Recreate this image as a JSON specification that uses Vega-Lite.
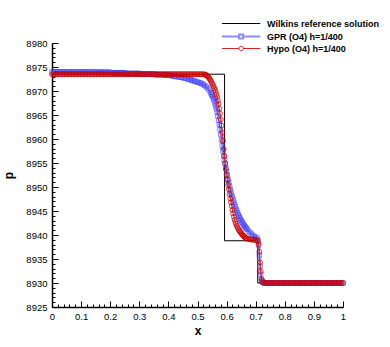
{
"$schema": "https://vega.github.io/schema/vega-lite/v6.json",
"width": 291, "height": 264,
"autosize": "none",
"padding": {"left": 52, "top": 43, "right": 47, "bottom": 40},
"background": "white",
"config": {"view": {"stroke": null}, "font": "Liberation Sans"},
"datasets": {
"ref": [{"x":0,"p":8973.5},{"x":0.593,"p":8973.5},{"x":0.593,"p":8938.8},{"x":0.707,"p":8938.8},{"x":0.707,"p":8930},{"x":1,"p":8930}],
"hypo": [
{"x":0,"p":8973.5},{"x":0.005,"p":8973.5},{"x":0.01,"p":8973.5},{"x":0.015,"p":8973.5},{"x":0.02,"p":8973.5},{"x":0.025,"p":8973.5},{"x":0.03,"p":8973.5},{"x":0.035,"p":8973.5},{"x":0.04,"p":8973.5},{"x":0.045,"p":8973.5},
{"x":0.05,"p":8973.5},{"x":0.055,"p":8973.5},{"x":0.06,"p":8973.5},{"x":0.065,"p":8973.5},{"x":0.07,"p":8973.5},{"x":0.075,"p":8973.5},{"x":0.08,"p":8973.5},{"x":0.085,"p":8973.5},{"x":0.09,"p":8973.5},{"x":0.095,"p":8973.5},
{"x":0.1,"p":8973.5},{"x":0.105,"p":8973.5},{"x":0.11,"p":8973.5},{"x":0.115,"p":8973.5},{"x":0.12,"p":8973.5},{"x":0.125,"p":8973.5},{"x":0.13,"p":8973.5},{"x":0.135,"p":8973.5},{"x":0.14,"p":8973.5},{"x":0.145,"p":8973.5},
{"x":0.15,"p":8973.5},{"x":0.155,"p":8973.5},{"x":0.16,"p":8973.5},{"x":0.165,"p":8973.5},{"x":0.17,"p":8973.5},{"x":0.175,"p":8973.5},{"x":0.18,"p":8973.5},{"x":0.185,"p":8973.5},{"x":0.19,"p":8973.5},{"x":0.195,"p":8973.5},
{"x":0.2,"p":8973.5},{"x":0.205,"p":8973.5},{"x":0.21,"p":8973.5},{"x":0.215,"p":8973.5},{"x":0.22,"p":8973.5},{"x":0.225,"p":8973.5},{"x":0.23,"p":8973.5},{"x":0.235,"p":8973.5},{"x":0.24,"p":8973.5},{"x":0.245,"p":8973.5},
{"x":0.25,"p":8973.5},{"x":0.255,"p":8973.5},{"x":0.26,"p":8973.5},{"x":0.265,"p":8973.5},{"x":0.27,"p":8973.5},{"x":0.275,"p":8973.5},{"x":0.28,"p":8973.5},{"x":0.285,"p":8973.5},{"x":0.29,"p":8973.5},{"x":0.295,"p":8973.5},
{"x":0.3,"p":8973.5},{"x":0.305,"p":8973.5},{"x":0.31,"p":8973.5},{"x":0.315,"p":8973.5},{"x":0.32,"p":8973.5},{"x":0.325,"p":8973.5},{"x":0.33,"p":8973.5},{"x":0.335,"p":8973.5},{"x":0.34,"p":8973.5},{"x":0.345,"p":8973.5},
{"x":0.35,"p":8973.5},{"x":0.355,"p":8973.5},{"x":0.36,"p":8973.5},{"x":0.365,"p":8973.5},{"x":0.37,"p":8973.5},{"x":0.375,"p":8973.5},{"x":0.38,"p":8973.5},{"x":0.385,"p":8973.5},{"x":0.39,"p":8973.5},{"x":0.395,"p":8973.5},
{"x":0.4,"p":8973.5},{"x":0.405,"p":8973.5},{"x":0.41,"p":8973.5},{"x":0.415,"p":8973.5},{"x":0.42,"p":8973.5},{"x":0.425,"p":8973.5},{"x":0.43,"p":8973.5},{"x":0.435,"p":8973.5},{"x":0.44,"p":8973.5},{"x":0.445,"p":8973.5},
{"x":0.45,"p":8973.5},{"x":0.455,"p":8973.5},{"x":0.46,"p":8973.5},{"x":0.465,"p":8973.5},{"x":0.47,"p":8973.5},{"x":0.475,"p":8973.5},{"x":0.48,"p":8973.5},{"x":0.485,"p":8973.5},{"x":0.49,"p":8973.5},{"x":0.495,"p":8973.5},
{"x":0.5,"p":8973.5},{"x":0.505,"p":8973.5},{"x":0.51,"p":8973.5},{"x":0.515,"p":8973.5},{"x":0.52,"p":8973.5},{"x":0.525,"p":8973.45},{"x":0.53,"p":8973.3},{"x":0.535,"p":8973.05},{"x":0.54,"p":8972.7},{"x":0.545,"p":8972.2},
{"x":0.55,"p":8971.6},{"x":0.555,"p":8971.0},{"x":0.56,"p":8970.2},{"x":0.565,"p":8969.3},{"x":0.57,"p":8968.1},{"x":0.575,"p":8966.3},{"x":0.58,"p":8964.1},{"x":0.585,"p":8961.3},{"x":0.59,"p":8957.9},{"x":0.595,"p":8955.0},
{"x":0.6,"p":8952.6},{"x":0.605,"p":8950.5},{"x":0.61,"p":8948.5},{"x":0.615,"p":8946.8},{"x":0.62,"p":8945.2},{"x":0.625,"p":8943.8},{"x":0.63,"p":8942.7},{"x":0.635,"p":8941.9},{"x":0.64,"p":8941.3},{"x":0.645,"p":8940.8},
{"x":0.65,"p":8940.4},{"x":0.655,"p":8940.0},{"x":0.66,"p":8939.7},{"x":0.665,"p":8939.4},{"x":0.67,"p":8939.25},{"x":0.675,"p":8939.15},{"x":0.68,"p":8939.1},{"x":0.685,"p":8939.05},{"x":0.69,"p":8939.0},{"x":0.695,"p":8939.0},
{"x":0.7,"p":8939.0},{"x":0.705,"p":8938.9},{"x":0.71,"p":8938.1},{"x":0.715,"p":8934.3},{"x":0.72,"p":8930.8},{"x":0.725,"p":8930.1},{"x":0.73,"p":8930},{"x":0.735,"p":8930},{"x":0.74,"p":8930},{"x":0.745,"p":8930},
{"x":0.75,"p":8930},{"x":0.755,"p":8930},{"x":0.76,"p":8930},{"x":0.765,"p":8930},{"x":0.77,"p":8930},{"x":0.775,"p":8930},{"x":0.78,"p":8930},{"x":0.785,"p":8930},{"x":0.79,"p":8930},{"x":0.795,"p":8930},
{"x":0.8,"p":8930},{"x":0.805,"p":8930},{"x":0.81,"p":8930},{"x":0.815,"p":8930},{"x":0.82,"p":8930},{"x":0.825,"p":8930},{"x":0.83,"p":8930},{"x":0.835,"p":8930},{"x":0.84,"p":8930},{"x":0.845,"p":8930},
{"x":0.85,"p":8930},{"x":0.855,"p":8930},{"x":0.86,"p":8930},{"x":0.865,"p":8930},{"x":0.87,"p":8930},{"x":0.875,"p":8930},{"x":0.88,"p":8930},{"x":0.885,"p":8930},{"x":0.89,"p":8930},{"x":0.895,"p":8930},
{"x":0.9,"p":8930},{"x":0.905,"p":8930},{"x":0.91,"p":8930},{"x":0.915,"p":8930},{"x":0.92,"p":8930},{"x":0.925,"p":8930},{"x":0.93,"p":8930},{"x":0.935,"p":8930},{"x":0.94,"p":8930},{"x":0.945,"p":8930},
{"x":0.95,"p":8930},{"x":0.955,"p":8930},{"x":0.96,"p":8930},{"x":0.965,"p":8930},{"x":0.97,"p":8930},{"x":0.975,"p":8930},{"x":0.98,"p":8930},{"x":0.985,"p":8930},{"x":0.99,"p":8930},{"x":0.995,"p":8930},
{"x":1,"p":8930},
{"x":0.5275,"p":8973.4},{"x":0.5325,"p":8973.2},{"x":0.5375,"p":8972.9},{"x":0.5425,"p":8972.45},{"x":0.5475,"p":8971.9},{"x":0.5525,"p":8971.3},{"x":0.5575,"p":8970.6},{"x":0.5625,"p":8969.8},{"x":0.5675,"p":8968.7},{"x":0.5725,"p":8967.3},
{"x":0.5775,"p":8965.3},{"x":0.5825,"p":8962.8},{"x":0.5875,"p":8959.6},{"x":0.5925,"p":8956.4},{"x":0.5975,"p":8953.7},{"x":0.6025,"p":8951.5},{"x":0.6075,"p":8949.5},{"x":0.6125,"p":8947.6},{"x":0.6175,"p":8946.0},{"x":0.6225,"p":8944.5},
{"x":0.6275,"p":8943.2},{"x":0.6325,"p":8942.3},{"x":0.6375,"p":8941.6},{"x":0.6425,"p":8941.0},{"x":0.6475,"p":8940.6},{"x":0.6525,"p":8940.2},{"x":0.6575,"p":8939.85},{"x":0.6625,"p":8939.55},{"x":0.6675,"p":8939.3},
{"x":0.7075,"p":8938.7},{"x":0.7125,"p":8936.5},{"x":0.7175,"p":8932.4},{"x":0.7225,"p":8930.4}],
"gpr": [
{"x":0,"p":8973.95},{"x":0.005,"p":8973.95},{"x":0.01,"p":8973.95},{"x":0.015,"p":8973.95},{"x":0.02,"p":8973.95},{"x":0.025,"p":8973.95},{"x":0.03,"p":8973.95},{"x":0.035,"p":8973.95},{"x":0.04,"p":8973.95},{"x":0.045,"p":8973.95},
{"x":0.05,"p":8973.95},{"x":0.055,"p":8973.95},{"x":0.06,"p":8973.95},{"x":0.065,"p":8973.95},{"x":0.07,"p":8973.95},{"x":0.075,"p":8973.95},{"x":0.08,"p":8973.95},{"x":0.085,"p":8973.95},{"x":0.09,"p":8973.95},{"x":0.095,"p":8973.95},
{"x":0.1,"p":8973.95},{"x":0.105,"p":8973.95},{"x":0.11,"p":8973.95},{"x":0.115,"p":8973.95},{"x":0.12,"p":8973.95},{"x":0.125,"p":8973.95},{"x":0.13,"p":8973.95},{"x":0.135,"p":8973.95},{"x":0.14,"p":8973.95},{"x":0.145,"p":8973.95},
{"x":0.15,"p":8973.95},{"x":0.155,"p":8973.9},{"x":0.16,"p":8973.9},{"x":0.165,"p":8973.9},{"x":0.17,"p":8973.9},{"x":0.175,"p":8973.9},{"x":0.18,"p":8973.9},{"x":0.185,"p":8973.9},{"x":0.19,"p":8973.9},{"x":0.195,"p":8973.9},
{"x":0.2,"p":8973.9},{"x":0.205,"p":8973.8},{"x":0.21,"p":8973.8},{"x":0.215,"p":8973.8},{"x":0.22,"p":8973.8},{"x":0.225,"p":8973.8},{"x":0.23,"p":8973.8},{"x":0.235,"p":8973.8},{"x":0.24,"p":8973.8},{"x":0.245,"p":8973.8},
{"x":0.25,"p":8973.8},{"x":0.255,"p":8973.65},{"x":0.26,"p":8973.65},{"x":0.265,"p":8973.65},{"x":0.27,"p":8973.65},{"x":0.275,"p":8973.65},{"x":0.28,"p":8973.65},{"x":0.285,"p":8973.65},{"x":0.29,"p":8973.65},{"x":0.295,"p":8973.65},
{"x":0.3,"p":8973.65},{"x":0.305,"p":8973.5},{"x":0.31,"p":8973.5},{"x":0.315,"p":8973.5},{"x":0.32,"p":8973.5},{"x":0.325,"p":8973.5},{"x":0.33,"p":8973.5},{"x":0.335,"p":8973.5},{"x":0.34,"p":8973.5},{"x":0.345,"p":8973.5},
{"x":0.35,"p":8973.5},{"x":0.355,"p":8973.4},{"x":0.36,"p":8973.4},{"x":0.365,"p":8973.4},{"x":0.37,"p":8973.4},{"x":0.375,"p":8973.4},{"x":0.38,"p":8973.4},{"x":0.385,"p":8973.3},{"x":0.39,"p":8973.3},{"x":0.395,"p":8973.3},
{"x":0.4,"p":8973.3},{"x":0.405,"p":8973.25},{"x":0.41,"p":8973.2},{"x":0.415,"p":8973.15},{"x":0.42,"p":8973.1},{"x":0.425,"p":8973.05},{"x":0.43,"p":8973.0},{"x":0.435,"p":8972.95},{"x":0.44,"p":8972.9},{"x":0.445,"p":8972.85},
{"x":0.45,"p":8972.8},{"x":0.455,"p":8972.7},{"x":0.46,"p":8972.65},{"x":0.465,"p":8972.55},{"x":0.47,"p":8972.45},{"x":0.475,"p":8972.35},{"x":0.48,"p":8972.25},{"x":0.485,"p":8972.15},{"x":0.49,"p":8972.05},{"x":0.495,"p":8971.95},
{"x":0.5,"p":8971.85},{"x":0.505,"p":8971.75},{"x":0.51,"p":8971.65},{"x":0.515,"p":8971.5},{"x":0.52,"p":8971.35},{"x":0.525,"p":8971.15},{"x":0.53,"p":8970.9},{"x":0.535,"p":8970.6},{"x":0.54,"p":8970.2},{"x":0.545,"p":8969.7},
{"x":0.55,"p":8969.1},{"x":0.555,"p":8968.4},{"x":0.56,"p":8967.5},{"x":0.565,"p":8966.3},{"x":0.57,"p":8964.8},{"x":0.575,"p":8963.0},{"x":0.58,"p":8960.9},{"x":0.585,"p":8958.6},{"x":0.59,"p":8956.5},{"x":0.595,"p":8954.8},
{"x":0.6,"p":8953.2},{"x":0.605,"p":8951.6},{"x":0.61,"p":8950.2},{"x":0.615,"p":8948.9},{"x":0.62,"p":8947.8},{"x":0.625,"p":8946.8},{"x":0.63,"p":8945.9},{"x":0.635,"p":8945.0},{"x":0.64,"p":8944.2},{"x":0.645,"p":8943.6},
{"x":0.65,"p":8943.0},{"x":0.655,"p":8942.5},{"x":0.66,"p":8942.0},{"x":0.665,"p":8941.6},{"x":0.67,"p":8941.2},{"x":0.675,"p":8940.8},{"x":0.68,"p":8940.5},{"x":0.685,"p":8940.2},{"x":0.69,"p":8939.95},{"x":0.695,"p":8939.7},
{"x":0.7,"p":8939.5},{"x":0.705,"p":8939.3},{"x":0.71,"p":8937.8},{"x":0.715,"p":8933.5},{"x":0.72,"p":8930.6},{"x":0.725,"p":8930.1},{"x":0.73,"p":8930},{"x":0.735,"p":8930},{"x":0.74,"p":8930},{"x":0.745,"p":8930},
{"x":0.75,"p":8930},{"x":0.755,"p":8930},{"x":0.76,"p":8930},{"x":0.765,"p":8930},{"x":0.77,"p":8930},{"x":0.775,"p":8930},{"x":0.78,"p":8930},{"x":0.785,"p":8930},{"x":0.79,"p":8930},{"x":0.795,"p":8930},
{"x":0.8,"p":8930},{"x":0.805,"p":8930},{"x":0.81,"p":8930},{"x":0.815,"p":8930},{"x":0.82,"p":8930},{"x":0.825,"p":8930},{"x":0.83,"p":8930},{"x":0.835,"p":8930},{"x":0.84,"p":8930},{"x":0.845,"p":8930},
{"x":0.85,"p":8930},{"x":0.855,"p":8930},{"x":0.86,"p":8930},{"x":0.865,"p":8930},{"x":0.87,"p":8930},{"x":0.875,"p":8930},{"x":0.88,"p":8930},{"x":0.885,"p":8930},{"x":0.89,"p":8930},{"x":0.895,"p":8930},
{"x":0.9,"p":8930},{"x":0.905,"p":8930},{"x":0.91,"p":8930},{"x":0.915,"p":8930},{"x":0.92,"p":8930},{"x":0.925,"p":8930},{"x":0.93,"p":8930},{"x":0.935,"p":8930},{"x":0.94,"p":8930},{"x":0.945,"p":8930},
{"x":0.95,"p":8930},{"x":0.955,"p":8930},{"x":0.96,"p":8930},{"x":0.965,"p":8930},{"x":0.97,"p":8930},{"x":0.975,"p":8930},{"x":0.98,"p":8930},{"x":0.985,"p":8930},{"x":0.99,"p":8930},{"x":0.995,"p":8930},
{"x":1,"p":8930},
{"x":0.5475,"p":8969.4},{"x":0.5525,"p":8968.8},{"x":0.5575,"p":8968.0},{"x":0.5625,"p":8966.9},{"x":0.5675,"p":8965.6},{"x":0.5725,"p":8963.9},{"x":0.5775,"p":8962.0},{"x":0.5825,"p":8959.8},{"x":0.5875,"p":8957.5},{"x":0.5925,"p":8955.6},
{"x":0.5975,"p":8954.0},{"x":0.6025,"p":8952.4},{"x":0.6075,"p":8950.9},{"x":0.6125,"p":8949.5},{"x":0.6175,"p":8948.3},{"x":0.6225,"p":8947.3},{"x":0.6275,"p":8946.3},{"x":0.6325,"p":8945.4},{"x":0.6375,"p":8944.6},{"x":0.6425,"p":8943.9},
{"x":0.6475,"p":8943.3},{"x":0.6525,"p":8942.7},{"x":0.6575,"p":8942.2},{"x":0.6625,"p":8941.8},{"x":0.6675,"p":8941.4},
{"x":0.7075,"p":8938.9},{"x":0.7125,"p":8935.8},{"x":0.7175,"p":8931.8},{"x":0.7225,"p":8930.3}]
},
"encoding": {
"x": {"field": "x", "type": "quantitative", "scale": {"domain": [0, 1], "nice": false, "zero": false},
 "axis": {"title": "x", "values": [0,0.02,0.04,0.06,0.08,0.1,0.12,0.14,0.16,0.18,0.2,0.22,0.24,0.26,0.28,0.3,0.32,0.34,0.36,0.38,0.4,0.42,0.44,0.46,0.48,0.5,0.52,0.54,0.56,0.58,0.6,0.62,0.64,0.66,0.68,0.7,0.72,0.74,0.76,0.78,0.8,0.82,0.84,0.86,0.88,0.9,0.92,0.94,0.96,0.98,1],
  "format": "~g",
  "labelExpr": "abs(datum.value*10-round(datum.value*10))<0.001 ? datum.label : ''",
  "tickSize": {"condition": {"test": "abs(datum.value*10-round(datum.value*10))<0.001", "value": -6}, "value": -3},
  "labelPadding": 10, "grid": false, "labelOverlap": false, "labelFlush": false, "labelBound": false,
  "domainColor": "black", "domainWidth": 1.5, "tickColor": "black", "tickWidth": 1,
  "labelFont": "Liberation Sans", "labelFontSize": 9.5, "labelColor": "black",
  "titleFont": "Liberation Sans", "titleFontSize": 12, "titleFontWeight": "bold", "titleColor": "black", "titlePadding": 2}},
"y": {"field": "p", "type": "quantitative", "scale": {"domain": [8925, 8980], "nice": false, "zero": false},
 "axis": {"title": "p", "values": [8925,8926,8927,8928,8929,8930,8931,8932,8933,8934,8935,8936,8937,8938,8939,8940,8941,8942,8943,8944,8945,8946,8947,8948,8949,8950,8951,8952,8953,8954,8955,8956,8957,8958,8959,8960,8961,8962,8963,8964,8965,8966,8967,8968,8969,8970,8971,8972,8973,8974,8975,8976,8977,8978,8979,8980],
  "format": "d",
  "labelExpr": "datum.value % 5 == 0 ? datum.label : ''",
  "tickSize": {"condition": {"test": "datum.value % 5 == 0", "value": -6}, "value": -3},
  "labelPadding": 11, "grid": false, "labelOverlap": false, "labelFlush": false, "labelBound": false,
  "domainColor": "black", "domainWidth": 1.5, "tickColor": "black", "tickWidth": 1,
  "labelFont": "Liberation Sans", "labelFontSize": 9.5, "labelColor": "black",
  "titleFont": "Liberation Sans", "titleFontSize": 12, "titleFontWeight": "bold", "titleColor": "black", "titlePadding": 10}}
},
"layer": [
{"data": {"name": "ref"}, "mark": {"type": "line", "strokeWidth": 1},
 "encoding": {"order": {"value": null},
  "color": {"datum": "Wilkins reference solution",
   "scale": {"domain": ["Wilkins reference solution", "GPR (O4) h=1/400", "Hypo (O4) h=1/400"], "range": ["#000000", "#8c8cff", "#dd2020"]},
   "legend": {"title": null, "orient": "none", "legendX": 170, "legendY": -24, "padding": 0, "rowPadding": 1,
    "symbolSize": 81, "symbolStrokeWidth": 1, "labelOffset": 36, "labelLimit": 300,
    "labelFont": "Liberation Sans", "labelFontSize": 9, "labelFontWeight": "bold", "labelColor": "black",
    "encode": {"symbols": {"update": {
     "shape": {"signal": "datum.value == 'GPR (O4) h=1/400' ? 'M-1,0H2.8M3.7,0H7.5M2.8,-0.45H3.7V0.45H2.8Z' : (datum.value == 'Hypo (O4) h=1/400' ? 'M-1,0H2.75M3.75,0H7.5M2.75,0A0.5,0.5 0 1,1 3.75,0A0.5,0.5 0 1,1 2.75,0' : 'M-1,0H7.5')"},
     "fill": {"value": "transparent"},
     "strokeWidth": {"signal": "datum.value == 'GPR (O4) h=1/400' ? 2 : 1"}}}}}}}},
{"data": {"name": "gpr"}, "mark": {"type": "line", "strokeWidth": 2},
 "encoding": {"color": {"datum": "GPR (O4) h=1/400"}}},
{"data": {"name": "gpr"}, "mark": {"type": "point", "shape": "square", "filled": false, "stroke": "#3c3cff", "strokeWidth": 1, "size": 20, "opacity": 0.6}},
{"data": {"name": "hypo"}, "mark": {"type": "line", "strokeWidth": 1},
 "encoding": {"color": {"datum": "Hypo (O4) h=1/400"}}},
{"data": {"name": "hypo"}, "mark": {"type": "point", "shape": "circle", "filled": false, "stroke": "#cc0000", "strokeWidth": 1, "size": 24, "opacity": 0.75}}
]
}
